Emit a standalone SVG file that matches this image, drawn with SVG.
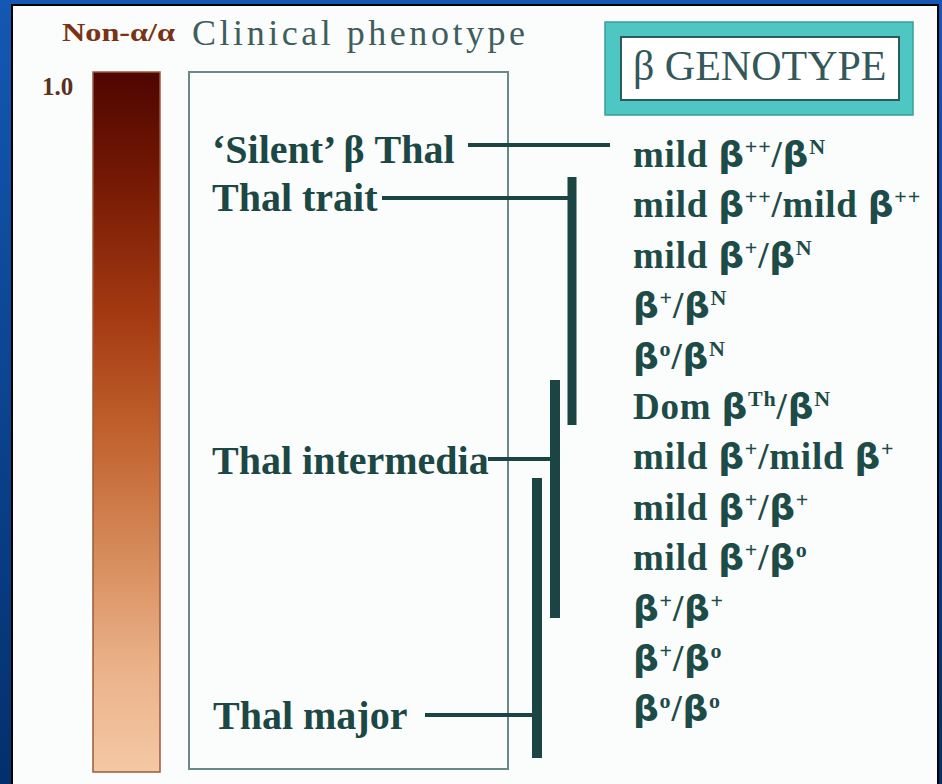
<svg xmlns="http://www.w3.org/2000/svg" width="942" height="784" viewBox="0 0 942 784">
<defs>
<linearGradient id="bg" x1="0" y1="0" x2="0" y2="1">
<stop offset="0" stop-color="#1458b4"/>
<stop offset="1" stop-color="#03306c"/>
</linearGradient>
<linearGradient id="bar" x1="0" y1="0" x2="0" y2="1">
<stop offset="0" stop-color="#4e0500"/>
<stop offset="0.15" stop-color="#741804"/>
<stop offset="0.35" stop-color="#a43a12"/>
<stop offset="0.5" stop-color="#be5e2a"/>
<stop offset="0.7" stop-color="#d88e5e"/>
<stop offset="0.85" stop-color="#eab28a"/>
<stop offset="1" stop-color="#f4c8a4"/>
</linearGradient>
<style>
.ph{font-family:"Liberation Serif","Times New Roman",serif;font-weight:bold;font-size:40px;fill:#1b4744}
.gt{font-family:"Liberation Serif","Times New Roman",serif;font-weight:bold;font-size:37px;fill:#1d4b47;letter-spacing:0.8px}
.b{font-family:"DejaVu Sans",sans-serif;font-size:36px}
.sup{font-size:22px}
.ln{stroke:#1a4542;stroke-width:4;fill:none}
.br{stroke:#1a4542;stroke-width:10;fill:none}
</style>
</defs>
<rect x="0" y="0" width="942" height="784" fill="url(#bg)"/>
<rect x="12" y="5" width="926" height="790" fill="#fbfcfc" stroke="#000" stroke-width="2"/>

<g id="scale">
<rect x="93" y="72" width="67" height="700" fill="url(#bar)" stroke="#9a5a3a" stroke-width="1.5"/>
<text x="62" y="41" font-family="Liberation Serif,serif" font-weight="bold" font-size="26" fill="#7a3214" textLength="113" lengthAdjust="spacingAndGlyphs">Non-α/α</text>
<text x="42" y="95" font-family="Liberation Serif,serif" font-weight="bold" font-size="25" fill="#5a3020">1.0</text>
</g>

<g id="phenotype-panel">
<text x="192" y="45" font-family="Liberation Serif,serif" font-size="36" fill="#3e5e5c" textLength="333" lengthAdjust="spacing">Clinical phenotype</text>
<rect x="189" y="72" width="319" height="697" fill="none" stroke="#6a8a88" stroke-width="2"/>
</g>

<g id="genotype-header">
<rect x="605" y="22" width="308" height="93" fill="#4ec6c4" stroke="#3a9e9c" stroke-width="1.5"/>
<rect x="621" y="37" width="278" height="63" fill="#ffffff" stroke="#2e5a58" stroke-width="2"/>
<text x="633" y="80" font-family="Liberation Serif,serif" font-size="42" fill="#34575a">β GENOTYPE</text>
</g>

<g id="silent"><text class="ph" x="212" y="163">‘Silent’ β Thal</text></g>
<g id="trait"><text class="ph" x="212" y="211">Thal trait</text></g>
<g id="intermedia"><text class="ph" x="212" y="474">Thal intermedia</text></g>
<g id="major"><text class="ph" x="213" y="729">Thal major</text></g>

<g id="genotypes">
<text class="gt" x="633" y="167">mild <tspan class="b">β</tspan><tspan class="sup" dy="-13">++</tspan><tspan dy="13">/</tspan><tspan class="b">β</tspan><tspan class="sup" dy="-13">N</tspan></text>
<text class="gt" x="633" y="217.4">mild <tspan class="b">β</tspan><tspan class="sup" dy="-13">++</tspan><tspan dy="13">/mild </tspan><tspan class="b">β</tspan><tspan class="sup" dy="-13">++</tspan></text>
<text class="gt" x="633" y="267.8">mild <tspan class="b">β</tspan><tspan class="sup" dy="-13">+</tspan><tspan dy="13">/</tspan><tspan class="b">β</tspan><tspan class="sup" dy="-13">N</tspan></text>
<text class="gt" x="633" y="318.2"><tspan class="b">β</tspan><tspan class="sup" dy="-13">+</tspan><tspan dy="13">/</tspan><tspan class="b">β</tspan><tspan class="sup" dy="-13">N</tspan></text>
<text class="gt" x="633" y="368.6"><tspan class="b">β</tspan><tspan class="sup" dy="-13">o</tspan><tspan dy="13">/</tspan><tspan class="b">β</tspan><tspan class="sup" dy="-13">N</tspan></text>
<text class="gt" x="633" y="419">Dom <tspan class="b">β</tspan><tspan class="sup" dy="-13">Th</tspan><tspan dy="13">/</tspan><tspan class="b">β</tspan><tspan class="sup" dy="-13">N</tspan></text>
<text class="gt" x="633" y="469.4">mild <tspan class="b">β</tspan><tspan class="sup" dy="-13">+</tspan><tspan dy="13">/mild </tspan><tspan class="b">β</tspan><tspan class="sup" dy="-13">+</tspan></text>
<text class="gt" x="633" y="519.8">mild <tspan class="b">β</tspan><tspan class="sup" dy="-13">+</tspan><tspan dy="13">/</tspan><tspan class="b">β</tspan><tspan class="sup" dy="-13">+</tspan></text>
<text class="gt" x="633" y="570.2">mild <tspan class="b">β</tspan><tspan class="sup" dy="-13">+</tspan><tspan dy="13">/</tspan><tspan class="b">β</tspan><tspan class="sup" dy="-13">o</tspan></text>
<text class="gt" x="633" y="620.6"><tspan class="b">β</tspan><tspan class="sup" dy="-13">+</tspan><tspan dy="13">/</tspan><tspan class="b">β</tspan><tspan class="sup" dy="-13">+</tspan></text>
<text class="gt" x="633" y="671"><tspan class="b">β</tspan><tspan class="sup" dy="-13">+</tspan><tspan dy="13">/</tspan><tspan class="b">β</tspan><tspan class="sup" dy="-13">o</tspan></text>
<text class="gt" x="633" y="721.4"><tspan class="b">β</tspan><tspan class="sup" dy="-13">o</tspan><tspan dy="13">/</tspan><tspan class="b">β</tspan><tspan class="sup" dy="-13">o</tspan></text>
</g>

<g id="connectors">
<line class="ln" x1="468" y1="145" x2="610" y2="145"/>
<line class="ln" x1="382" y1="198" x2="570" y2="198"/>
<line class="br" x1="572" y1="177" x2="572" y2="425" style="stroke-width:9"/>
<line class="ln" x1="488" y1="459" x2="551" y2="459"/>
<line class="br" x1="555" y1="380" x2="555" y2="618"/>
<line class="ln" x1="425" y1="715" x2="533" y2="715"/>
<line class="br" x1="537" y1="478" x2="537" y2="758"/>
</g>
</svg>
